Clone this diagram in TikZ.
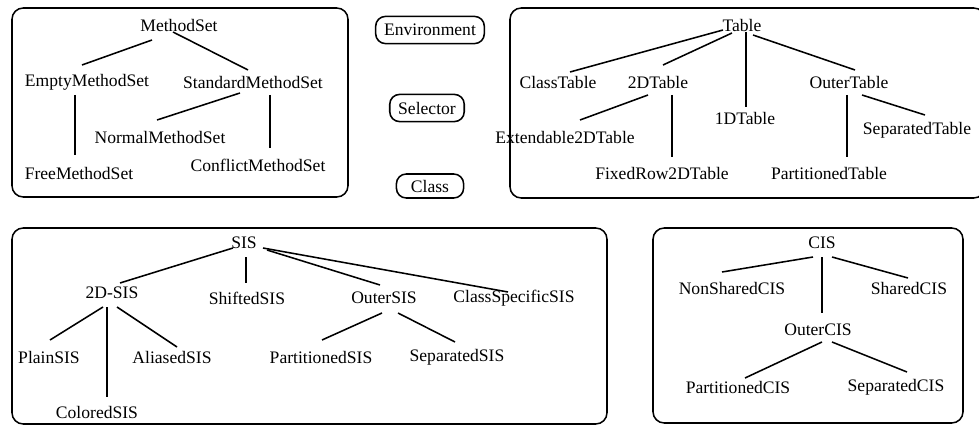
\documentclass[tikz,border=0pt]{standalone}
\usepackage{fontspec}
\setmainfont{Liberation Serif}
\usetikzlibrary{calc}

\begin{document}
\begin{tikzpicture}[
x=0.025cm,y=-0.025cm,
every node/.style={font=\fontsize{12.5}{15}\selectfont},
cls/.style={inner sep=1pt},
tag/.style={draw,line width=1.1pt,rounded corners=7pt,inner xsep=6pt,
inner ysep=3pt,minimum height=0.68cm},
grp/.style={draw,line width=1.1pt,rounded corners=8pt},
link/.style={line width=1.1pt}
]
\useasboundingbox (0,0) rectangle (979,426);

% groups
\draw[grp] (12,8) rectangle (348,197);
\draw[grp] (510,8) rectangle (985,198);
\draw[grp] (12,228) rectangle (607,424);
\draw[grp] (653,228) rectangle (963,423);

% legend in the middle
\node[tag] (env) at (430,30) {Environment};
\node[tag] (sel) at (427,108) {Selector};
\node[tag,minimum width=1.68cm,minimum height=0.6cm] (klass) at (430,186) {Class};

% MethodSet
\node[cls] (ms)  at (179,25)  {MethodSet};
\node[cls] (ems) at (87,82)   {EmptyMethodSet};
\node[cls] (sms) at (253,82)  {StandardMethodSet};
\node[cls] (nms) at (160,137) {NormalMethodSet};
\node[cls] (fms) at (79,173)  {FreeMethodSet};
\node[cls] (cms) at (258,165) {ConflictMethodSet};

\draw[link] ($(ms)+(-27,15)$) -- ($(ems)+(-5,-17)$);
\draw[link] ($(ms)+(-6,7)$) -- ($(sms)+(-5,-12)$);
\draw[link] ($(ems)+(-12,13)$) -- ($(fms)+(-4,-18)$);
\draw[link] ($(sms)+(-13,11)$) -- ($(nms)+(-3,-17)$);
\draw[link] ($(sms)+(17,13)$) -- ($(cms)+(12,-17)$);

% Table
\node[cls] (tab)  at (742,25)  {Table};
\node[cls] (ctab) at (558,82)  {ClassTable};
\node[cls] (dtab) at (658,82)  {2DTable};
\node[cls] (otab) at (849,82)  {OuterTable};
\node[cls] (itab) at (745,118) {1DTable};
\node[cls] (stab) at (917,130) {SeparatedTable};
\node[cls] (etab) at (565,137) {Extendable2DTable};
\node[cls] (ftab) at (662,173) {FixedRow2DTable};
\node[cls] (ptab) at (829,173) {PartitionedTable};

\draw[link] ($(tab)+(-19,5)$) -- ($(ctab)+(12,-10)$);
\draw[link] ($(tab)+(-10,8)$) -- ($(dtab)+(5,-17)$);
\draw[link] ($(tab)+(4,7)$) -- ($(itab)+(1,-11)$);
\draw[link] ($(tab)+(11,10)$) -- ($(otab)+(6,-12)$);
\draw[link] ($(dtab)+(-10,13)$) -- ($(etab)+(15,-17)$);
\draw[link] ($(dtab)+(14,13)$) -- ($(ftab)+(10,-16)$);
\draw[link] ($(otab)+(-2,13)$) -- ($(ptab)+(18,-16)$);
\draw[link] ($(otab)+(13,13)$) -- ($(stab)+(8,-15)$);

% SIS
\node[cls] (sis)  at (244,243) {SIS};
\node[cls] (dsis) at (112,293) {2D-SIS};
\node[cls] (hsis) at (247,298) {ShiftedSIS};
\node[cls] (osis) at (384,298) {OuterSIS};
\node[cls] (xsis) at (514,298) {ClassSpecificSIS};
\node[cls] (lsis) at (49,357)  {PlainSIS};
\node[cls] (asis) at (172,357) {AliasedSIS};
\node[cls] (psis) at (321,357) {PartitionedSIS};
\node[cls] (ssis) at (457,357) {SeparatedSIS};
\node[cls] (csis) at (97,412)  {ColoredSIS};

\draw[link] ($(sis)+(-11,5)$) -- ($(dsis)+(8,-10)$);
\draw[link] ($(sis)+(2,14)$) -- ($(hsis)+(-1,-15)$);
\draw[link] ($(sis)+(23,7)$) -- ($(osis)+(-4,-13)$);
\draw[link] ($(sis)+(19,5)$) -- ($(xsis)+(-6,-6)$);
\draw[link] ($(dsis)+(-9,14)$) -- ($(lsis)+(1,-17)$);
\draw[link] ($(dsis)+(-5,14)$) -- ($(csis)+(10,-15)$);
\draw[link] ($(dsis)+(5,14)$) -- ($(asis)+(5,-10)$);
\draw[link] ($(osis)+(-2,15)$) -- ($(psis)+(1,-17)$);
\draw[link] ($(osis)+(14,15)$) -- ($(ssis)+(-2,-15)$);

% CIS
\node[cls] (cis)  at (822,243) {CIS};
\node[cls] (ncis) at (732,288) {NonSharedCIS};
\node[cls] (scis) at (909,288) {SharedCIS};
\node[cls] (ocis) at (818,330) {OuterCIS};
\node[cls] (pcis) at (738,387) {PartitionedCIS};
\node[cls] (rcis) at (896,387) {SeparatedCIS};

\draw[link] ($(cis)+(-9,14)$) -- ($(ncis)+(-10,-16)$);
\draw[link] ($(cis)+(0,14)$) -- ($(ocis)+(4,-17)$);
\draw[link] ($(cis)+(10,14)$) -- ($(scis)+(-1,-10)$);
\draw[link] ($(ocis)+(4,12)$) -- ($(pcis)+(7,-9)$);
\draw[link] ($(ocis)+(14,12)$) -- ($(rcis)+(11,-15)$);
\end{tikzpicture}
\end{document}
